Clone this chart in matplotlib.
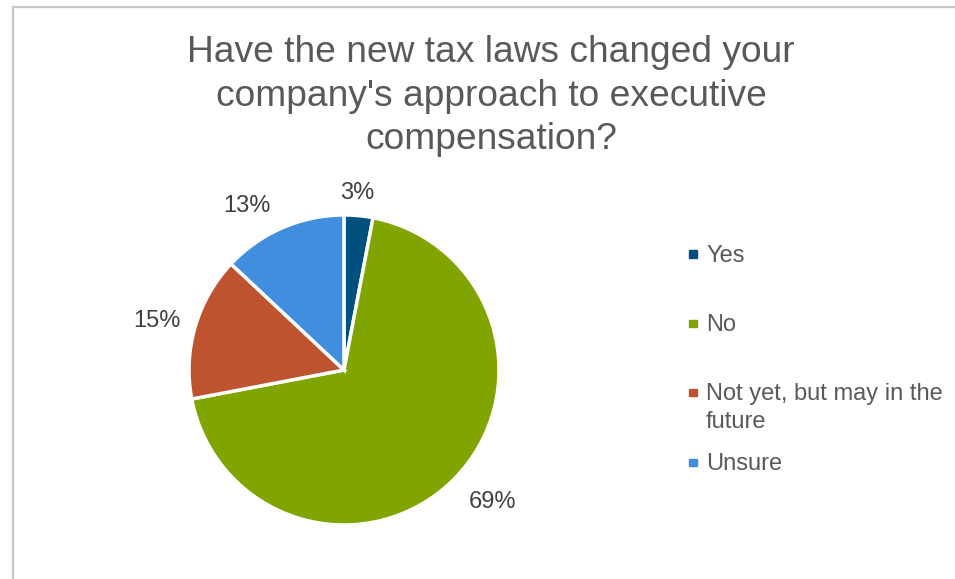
import matplotlib.pyplot as plt
from matplotlib.lines import Line2D
from matplotlib.patches import Rectangle
import numpy as np

plt.rcParams['font.family'] = ['Liberation Sans', 'DejaVu Sans']

# survey answers
answers = ['Yes', 'No', 'Not yet, but may in the\nfuture', 'Unsure']
shares = [3, 69, 15, 13]
colors = ['#00507F', '#80A500', '#C0532F', '#418EDE']
title = "Have the new tax laws changed your\ncompany's approach to executive\ncompensation?"

W, H = 955, 579
fig = plt.figure(figsize=(W / 100, H / 100), dpi=100)

# chart area border (left and top edges are visible)
fig.add_artist(Line2D([12.5 / W, 12.5 / W], [0, 1 - 6.5 / H], transform=fig.transFigure,
                      color='#C8C8C4', lw=1.6))
fig.add_artist(Line2D([12.5 / W, 1], [1 - 6.5 / H, 1 - 6.5 / H], transform=fig.transFigure,
                      color='#C8C8C4', lw=1.6))

fig.text(491 / W, 1 - 96 / H, title, ha='center', va='center', fontsize=26.7,
         color='#595959', linespacing=1.3)

# pie: center at (344, 370) px, radius 155 px
cx, cy, r = 344, 370, 155
span = 2.6 * r
ax = fig.add_axes([(cx - span / 2) / W, (H - cy - span / 2) / H, span / W, span / H])
wedges, _ = ax.pie(shares, colors=colors, startangle=90, counterclock=False,
                   wedgeprops=dict(edgecolor='white', linewidth=2.5))
ax.set_xlim(-1.3, 1.3)
ax.set_ylim(-1.3, 1.3)
ax.set_aspect('equal')

# percentage labels outside the slices (distance, angle nudge in degrees)
label_dist = [1.145, 1.285, 1.247, 1.229]
label_nudge = [1.2, 3.4, 1.5, 7.2]
for w, val, d, nudge in zip(wedges, shares, label_dist, label_nudge):
    ang = np.deg2rad((w.theta1 + w.theta2) / 2 + nudge)
    ax.text(d * np.cos(ang), d * np.sin(ang), f'{val}%', ha='center', va='center',
            fontsize=17, color='#404040')

# legend drawn as square markers with text
leg_y = [254, 323, 392, 462]
for lab, col, y in zip(answers, colors, leg_y):
    fig.add_artist(Rectangle((689 / W, 1 - (y + 4) / H), 7.5 / W, 7.5 / H,
                             transform=fig.transFigure, color=col))
    fig.text(706 / W, 1 - (y - 9) / H, lab, ha='left', va='top',
             fontsize=17, color='#595959', linespacing=1.35)

fig.savefig('out.png', dpi=100)
